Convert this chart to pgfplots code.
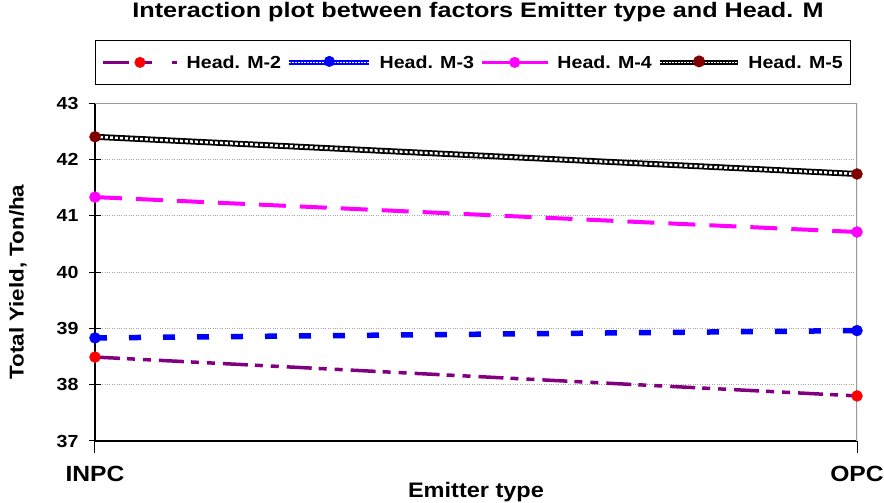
\documentclass[border=0pt]{standalone}
\usepackage{fontspec}
\setmainfont[FakeStretch=1.12]{Liberation Sans}
\newfontfamily\titlefont[FakeStretch=1.2]{Liberation Sans}
\usepackage{pgfplots}
\pgfplotsset{compat=1.18}
\definecolor{mpurple}{HTML}{800080}
\definecolor{mmag}{HTML}{FF00FF}
\definecolor{mblue}{HTML}{0000FF}
\definecolor{mdred}{HTML}{800000}
\definecolor{mred}{HTML}{FF0000}
\begin{document}
\begin{tikzpicture}
\useasboundingbox (-95pt,-62pt) rectangle (789pt,441pt);
\begin{axis}[
  at={(0pt,0pt)}, anchor=south west,
  scale only axis, width=762pt, height=338pt,
  xmin=0, xmax=1, ymin=37, ymax=43,
  xtick={0,1}, xticklabels={INPC,OPC},
  ytick={37,38,39,40,41,42,43},
  axis x line*=bottom, axis y line*=left,
  axis line style={black, line width=1.3pt, -},
  major tick length=12pt,
  ytick align=center, xtick align=outside,
  tick style={black, line width=1pt},
  ymajorgrids,
  major grid style={gray!70, dotted, line width=1pt},
  /pgf/number format/assume math mode=true,
  yticklabel style={font=\fontsize{17.5}{18}\selectfont\bfseries, xshift=-7pt},
  xticklabel style={font=\fontsize{22}{22}\selectfont\bfseries, yshift=-10pt},
  xlabel={Emitter type},
  xlabel style={font=\fontsize{21}{22}\selectfont\bfseries, at={(axis description cs:0.5,0)}, anchor=center, yshift=-51pt},
  ylabel={Total Yield, Ton/ha},
  ylabel style={font=\fontsize{20}{22}\selectfont\bfseries, at={(axis description cs:-0.101,0.47)}, anchor=center},
  title={Interaction plot between factors Emitter type and Head. M},
  title style={font=\titlefont\fontsize{21}{22}\selectfont\bfseries, at={(axis description cs:0.5,1)}, anchor=center, yshift=85pt, xshift=2pt},
  legend columns=4,
  legend style={at={(axis description cs:0.5,1)}, anchor=south, yshift=18pt, xshift=-3pt,
    draw=black, line width=1pt, font=\fontsize{17.5}{18}\selectfont\bfseries,
    inner xsep=6pt, inner ysep=13pt,
    /tikz/every odd column/.append style={column sep=6pt},
    /tikz/every even column/.append style={column sep=4pt}},
  legend cell align=left,
]
% legend images
\addlegendimage{legend image code/.code={
  \draw[mpurple, line width=3.5pt, dash pattern=on 26pt off 16pt on 7pt off 20pt] (0pt,0pt) -- (74pt,0pt);
  \fill[mred] (37pt,0pt) circle (5pt);}}
\addlegendentry{Head. M-2}
\addlegendimage{legend image code/.code={
  \draw[mblue, line width=4.5pt] (0pt,0pt) -- (80pt,0pt);
  \draw[white, line width=1.5pt, dash pattern=on 1.5pt off 1.5pt] (0pt,0pt) -- (80pt,0pt);
  \fill[mblue] (40pt,1pt) circle (5pt);}}
\addlegendentry{Head. M-3}
\addlegendimage{legend image code/.code={
  \draw[mmag, line width=3.5pt] (0pt,0pt) -- (66pt,0pt);
  \fill[mmag] (33pt,0pt) circle (5pt);}}
\addlegendentry{Head. M-4}
\addlegendimage{legend image code/.code={
  \draw[black, line width=4.5pt] (0pt,0pt) -- (78pt,0pt);
  \draw[white, line width=1.5pt, dash pattern=on 1.5pt off 1.5pt] (0pt,0pt) -- (78pt,0pt);
  \fill[mdred] (39pt,1pt) circle (5.5pt);}}
\addlegendentry{Head. M-5}
% Head. M-2
\addplot[forget plot, mpurple, line width=3.5pt, dash pattern=on 25pt off 7pt on 8pt off 8pt on 8pt off 8pt]
  coordinates {(0,38.49) (1,37.80)};
\addplot[forget plot, only marks, mark=*, mark size=5.5pt, mark options={fill=mred, draw=mred}]
  coordinates {(0,38.49) (1,37.80)};
% Head. M-3
\addplot[forget plot, mblue, line width=5.5pt, dash pattern=on 12pt off 22pt]
  coordinates {(0,38.83) (1,38.96)};
\addplot[forget plot, only marks, mark=*, mark size=5.5pt, mark options={fill=mblue, draw=mblue}]
  coordinates {(0,38.83) (1,38.96)};
% Head. M-4
\addplot[forget plot, mmag, line width=4pt, dash pattern=on 27pt off 14pt]
  coordinates {(0,41.33) (1,40.71)};
\addplot[forget plot, only marks, mark=*, mark size=5.5pt, mark options={fill=mmag, draw=mmag}]
  coordinates {(0,41.33) (1,40.71)};
% Head. M-5
\addplot[forget plot, black, line width=6pt]
  coordinates {(0,42.40) (1,41.74)};
\addplot[forget plot, white, line width=2.5pt, dash pattern=on 3pt off 2pt]
  coordinates {(0,42.40) (1,41.74)};
\addplot[forget plot, only marks, mark=*, mark size=5.5pt, mark options={fill=mdred, draw=mdred}]
  coordinates {(0,42.40) (1,41.74)};
% top and right frame (gray)
\draw[gray!80, line width=1.2pt] (rel axis cs:0,1) -- (rel axis cs:1,1) -- (rel axis cs:1,0);
\end{axis}
\end{tikzpicture}
\end{document}
